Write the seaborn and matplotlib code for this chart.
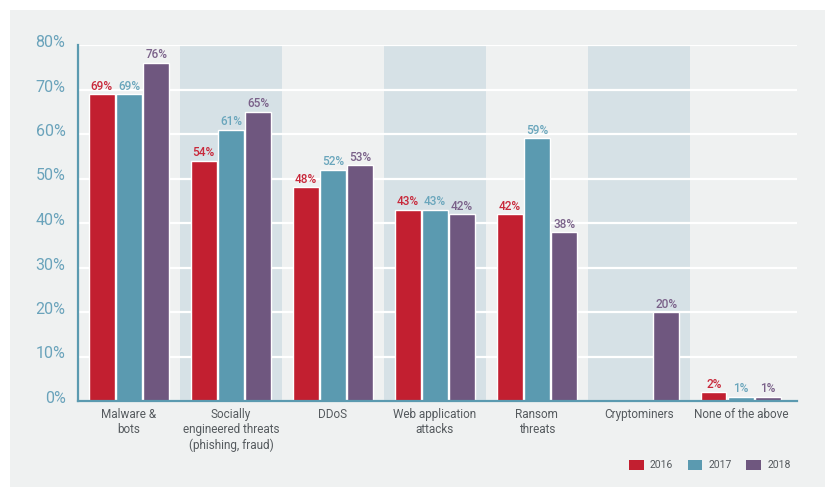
import numpy as np
import pandas as pd
import matplotlib
matplotlib.use("Agg")
import matplotlib.pyplot as plt
import seaborn as sns
from matplotlib.patches import Rectangle, Patch
from matplotlib.transforms import ScaledTranslation

categories = ["Malware &\nbots", "Socially\nengineered threats\n(phishing, fraud)", "DDoS",
              "Web application\nattacks", "Ransom\nthreats", "Cryptominers", "None of the above"]
years = ["2016", "2017", "2018"]
v2016 = [69, 54, 48, 43, 42, np.nan, 2]
v2017 = [69, 61, 52, 43, 59, np.nan, 1]
v2018 = [76, 65, 53, 42, 38, 20, 1]
yticks = [0, 10, 20, 30, 40, 50, 60, 70, 80]

bar_colors = ["#c21f30", "#5b9ab0", "#6f577f"]
label_colors = ["#c8283a", "#6aa6bc", "#7a6189"]
panel = "#eff1f1"
band = "#d6e1e6"

rows = []
for y, vals in zip(years, [v2016, v2017, v2018]):
    for c, v in zip(categories, vals):
        rows.append({"cat": c, "year": y, "val": v})
df = pd.DataFrame(rows)

sns.set_theme(style="white")
plt.rcParams['font.family'] = ['Roboto', 'DejaVu Sans']

fig = plt.figure(figsize=(8.25, 4.87), dpi=100)
fig.patch.set_facecolor("white")
fig.add_artist(Rectangle((10/825, 0), 1, 1 - 10/487, transform=fig.transFigure,
                         facecolor=panel, edgecolor="none", zorder=-10))

ax = fig.add_axes([78/825, (487-401)/487, (797-78)/825, (401-45)/487])
ax.set_facecolor("none")

for i in range(1, len(categories), 2):
    ax.axvspan(i - 0.5, i + 0.5, color=band, zorder=0, lw=0)

sns.barplot(data=df, x="cat", y="val", hue="year", palette=bar_colors, order=categories,
            hue_order=years, width=0.8, gap=0.06, saturation=1, ax=ax, legend=False,
            zorder=2)

for cont, col in zip(ax.containers, label_colors):
    ax.bar_label(cont, fmt="{:.0f}%", padding=1, color=col, fontsize=8.5,
                 fontweight="medium")

ax.set_ylim(0, 80)
ax.set_xlim(-0.5, 6.55)
ax.set_yticks(yticks)
ax.set_yticklabels([f"{t}%" for t in yticks])
ax.yaxis.grid(True, color="white", linewidth=1.6, zorder=0.5)
ax.xaxis.grid(False)
ax.set_axisbelow(True)
ax.tick_params(axis="y", length=0, pad=9, labelsize=11.5, labelcolor="#6aa3bb")
ax.tick_params(axis="x", length=0, pad=5, labelsize=8.5, labelcolor="#555a5e")
for lab in ax.get_yticklabels():
    lab.set_transform(lab.get_transform() + ScaledTranslation(0, 0.04, fig.dpi_scale_trans))
for lab in ax.get_xticklabels():
    lab.set_linespacing(1.25)
ax.set_xlabel("")
ax.set_ylabel("")
for s in ["top", "right"]:
    ax.spines[s].set_visible(False)
for s in ["left", "bottom"]:
    ax.spines[s].set_color("#5b9ab0")
    ax.spines[s].set_linewidth(1.6)
    ax.spines[s].set_zorder(3)

handles = [Patch(facecolor=c, edgecolor="none", label=y) for c, y in zip(bar_colors, years)]
leg = fig.legend(handles=handles, loc="center right", bbox_to_anchor=(800/825, (487-465)/487),
                 ncol=3, frameon=False, fontsize=7.5, handlelength=1.4, handleheight=1.2,
                 handletextpad=0.6, columnspacing=1.4)
for t in leg.get_texts():
    t.set_color("#555a5e")

fig.savefig("out.png", dpi=100)
